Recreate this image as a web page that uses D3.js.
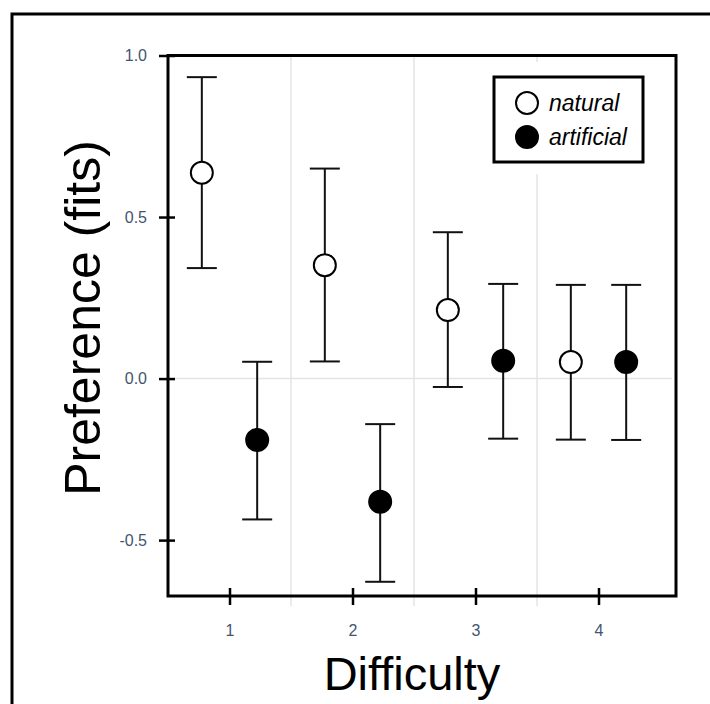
<!DOCTYPE html>
<html>
<head>
<meta charset="utf-8">
<script src="https://cdn.jsdelivr.net/npm/d3@7"></script>
<style>
  body { margin: 0; background: #fff; }
  svg { display: block; font-family: "Liberation Sans", Arial, Helvetica, sans-serif; }
</style>
</head>
<body>
<script>
var difficulty = [1, 2, 3, 4],
    naturalMean = [0.637, 0.351, 0.212, 0.051],
    naturalLow = [0.342, 0.053, -0.026, -0.189],
    naturalHigh = [0.933, 0.650, 0.453, 0.290],
    artificialMean = [-0.190, -0.381, 0.055, 0.051],
    artificialLow = [-0.436, -0.629, -0.186, -0.190],
    artificialHigh = [0.052, -0.141, 0.293, 0.290];

var yTicks = [-0.5, 0, 0.5, 1.0],
    gridX = [1.5, 2.5, 3.5];

var width = 710, height = 704;
var plotLeft = 168, plotRight = 676, plotTop = 55.5, plotBottom = 596;

var x = d3.scaleLinear().domain([0.5, 4.63]).range([plotLeft, plotRight]);
var y = d3.scaleLinear().domain([-0.673, 1.0]).range([plotBottom, plotTop]);

var svg = d3.select("body").append("svg")
    .attr("width", width)
    .attr("height", height);

// outer frame (runs off the right and bottom edges)
svg.append("rect")
    .attr("x", 12).attr("y", 14)
    .attr("width", 720).attr("height", 720)
    .attr("fill", "none").attr("stroke", "#000").attr("stroke-width", 3);

// grid
svg.selectAll(".vgrid").data(gridX).enter().append("line")
    .attr("class", "vgrid")
    .attr("x1", function(d) { return x(d); }).attr("x2", function(d) { return x(d); })
    .attr("y1", plotTop).attr("y2", plotBottom + 10)
    .attr("stroke", "#e4e4e4").attr("stroke-width", 1.5);

svg.append("line")
    .attr("x1", plotLeft).attr("x2", plotRight - 4)
    .attr("y1", y(0)).attr("y2", y(0))
    .attr("stroke", "#e4e4e4").attr("stroke-width", 1.5);

// series
var series = [
  {name: "natural", offset: -0.225, fill: "#fff", mean: naturalMean, low: naturalLow, high: naturalHigh},
  {name: "artificial", offset: 0.225, fill: "#000", mean: artificialMean, low: artificialLow, high: artificialHigh}
];

series.forEach(function(s) {
  var pts = difficulty.map(function(d, i) {
    return {x: d + s.offset, m: s.mean[i], lo: s.low[i], hi: s.high[i]};
  });
  var g = svg.append("g").attr("class", "series-" + s.name);

  g.selectAll(".bar").data(pts).enter().append("line")
      .attr("x1", function(d) { return x(d.x); }).attr("x2", function(d) { return x(d.x); })
      .attr("y1", function(d) { return y(d.lo); }).attr("y2", function(d) { return y(d.hi); })
      .attr("stroke", "#111").attr("stroke-width", 2);

  ["lo", "hi"].forEach(function(k) {
    g.selectAll(".cap-" + k).data(pts).enter().append("line")
        .attr("x1", function(d) { return x(d.x) - 15; }).attr("x2", function(d) { return x(d.x) + 15; })
        .attr("y1", function(d) { return y(d[k]); }).attr("y2", function(d) { return y(d[k]); })
        .attr("stroke", "#111").attr("stroke-width", 2);
  });

  g.selectAll("circle").data(pts).enter().append("circle")
      .attr("cx", function(d) { return x(d.x); })
      .attr("cy", function(d) { return y(d.m); })
      .attr("r", 11)
      .attr("fill", s.fill).attr("stroke", "#000").attr("stroke-width", 2);
});

// axes
var yAxis = svg.append("g")
    .attr("transform", "translate(" + plotLeft + ",0)")
    .call(d3.axisLeft(y).tickValues(yTicks).tickSize(9).tickPadding(12));
yAxis.select(".domain").remove();
yAxis.selectAll(".tick line").attr("x1", 7).attr("stroke", "#000").attr("stroke-width", 2.5);
yAxis.selectAll(".tick text")
    .attr("font-size", 16).attr("fill", "#44546e")
    .text(function(d) { return d3.format(".1f")(d).replace("\u2212", "-"); });

var xAxis = svg.append("g")
    .attr("transform", "translate(0," + plotBottom + ")")
    .call(d3.axisBottom(x).tickValues(difficulty).tickSize(9).tickFormat(d3.format("d")).tickPadding(20));
xAxis.select(".domain").remove();
xAxis.selectAll(".tick line").attr("y1", -8).attr("stroke", "#000").attr("stroke-width", 2.5);
xAxis.selectAll(".tick text").attr("font-size", 16).attr("fill", "#44546e");

// plot box
svg.append("rect")
    .attr("x", plotLeft).attr("y", plotTop)
    .attr("width", plotRight - plotLeft).attr("height", plotBottom - plotTop)
    .attr("fill", "none").attr("stroke", "#000").attr("stroke-width", 3);

// legend
var lg = svg.append("g");
lg.append("rect")
    .attr("x", 482).attr("y", 62).attr("width", 174).attr("height", 112)
    .attr("fill", "#fff");
lg.append("rect")
    .attr("x", 494).attr("y", 77).attr("width", 149).attr("height", 85)
    .attr("fill", "#fff").attr("stroke", "#000").attr("stroke-width", 3);
series.forEach(function(s, i) {
  var cy = 103 + i * 34;
  lg.append("circle")
      .attr("cx", 527).attr("cy", cy).attr("r", 11)
      .attr("fill", s.fill).attr("stroke", "#000").attr("stroke-width", 2);
  lg.append("text")
      .attr("x", 549).attr("y", cy + 8)
      .attr("font-size", 23).attr("font-style", "italic")
      .text(s.name);
});

// axis titles
svg.append("text")
    .attr("x", 412).attr("y", 690)
    .attr("text-anchor", "middle").attr("font-size", 47)
    .text("Difficulty");

svg.append("text")
    .attr("transform", "translate(100,318) rotate(-90)")
    .attr("text-anchor", "middle").attr("font-size", 50)
    .text("Preference (fits)");
</script>
</body>
</html>
